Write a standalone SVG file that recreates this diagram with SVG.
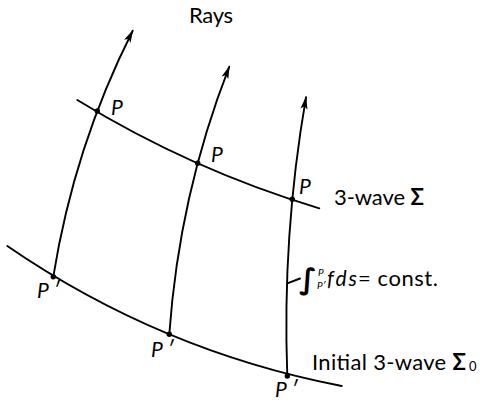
<svg xmlns="http://www.w3.org/2000/svg" width="480" height="400" viewBox="0 0 480 400">
<defs>
<style>
.ln{fill:none;stroke:#000;stroke-width:1.9;stroke-linecap:round}
.dot{fill:#000}
.t{font-family:Lato,"Liberation Sans",sans-serif;font-size:22px;fill:#000}
.i{font-family:Lato,"Liberation Sans",sans-serif;font-size:21px;font-style:italic;fill:#000}
.sm{font-family:Lato,"Liberation Sans",sans-serif;font-size:10px;font-style:italic;fill:#000}
.s{font-weight:bold}
</style>
<marker id="arr" markerUnits="userSpaceOnUse" markerWidth="16" markerHeight="12" viewBox="-14 -6 16 12" refX="0" refY="0" orient="auto">
<path d="M1,0 L-12,-3.6 L-9,0 L-12,3.6 Z" fill="#000"/>
</marker>
</defs>
<rect width="480" height="400" fill="#fff"/>
<g id="connectors">
<path class="ln" d="M53.3,276.7 Q74.1,146.9 132.7,30.7" marker-end="url(#arr)"/>
<path class="ln" d="M169.3,334.3 Q179.1,195.3 229.3,66.7" marker-end="url(#arr)"/>
<path class="ln" d="M287.3,376 Q282,235.4 306,97.3" marker-end="url(#arr)"/>
<path class="ln" d="M287.3,283.3 L300,278.5"/>
</g>
<g id="wave">
<path class="ln" d="M77.3,100 Q191.4,170 319.3,208.3"/>
<text class="t" x="334" y="205" textLength="90">3-wave <tspan class="s">Σ</tspan></text>
</g>
<g id="initial-wave">
<path class="ln" d="M7.3,246 Q160.1,350.9 341.7,386"/>
<text class="t" x="312" y="370" textLength="154">Initial 3-wave <tspan class="s">Σ</tspan></text>
<text x="469" y="371" style="font-family:Lato,'Liberation Sans',sans-serif;font-size:13px">0</text>
</g>
<g id="rays-label"><text class="t" x="189" y="23" textLength="44">Rays</text></g>
<g id="P1"><circle class="dot" cx="97.3" cy="111" r="2.7"/><text class="i" x="111" y="115">P</text></g>
<g id="P2"><circle class="dot" cx="197.7" cy="163.3" r="2.7"/><text class="i" x="211" y="162">P</text></g>
<g id="P3"><circle class="dot" cx="292.3" cy="199.3" r="2.7"/><text class="i" x="299" y="194">P</text></g>
<g id="Pp1"><circle class="dot" cx="53.3" cy="276.7" r="2.7"/><text class="i" x="37" y="298">P ′</text></g>
<g id="Pp2"><circle class="dot" cx="169.3" cy="334.3" r="2.7"/><text class="i" x="151" y="357">P ′</text></g>
<g id="Pp3"><circle class="dot" cx="287.3" cy="376" r="2.7"/><text class="i" x="275" y="397">P ′</text></g>
<g id="integral">
<text x="299" y="289" style="font-family:'DejaVu Sans',sans-serif;font-size:29px;font-style:italic;font-weight:bold">∫</text>
<text class="sm" x="318" y="276">P</text>
<text class="sm" x="317" y="289">P′</text>
<text class="i" x="327" y="286" textLength="30">fds</text>
<text class="t" x="358" y="286" textLength="80">= const.</text>
</g>
</svg>
